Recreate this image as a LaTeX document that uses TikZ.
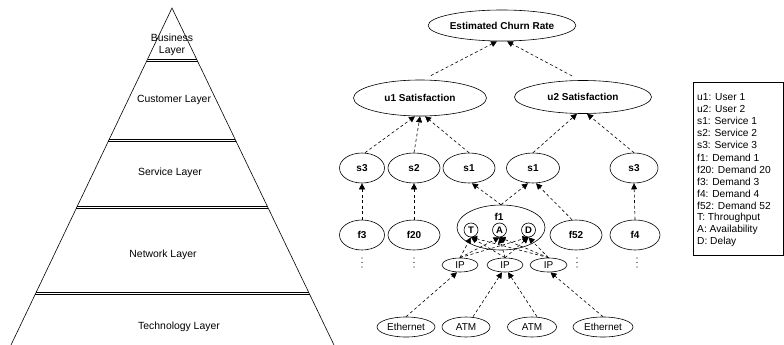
\documentclass[tikz,border=0pt]{standalone}
\usepackage{fontspec}
\setmainfont{Liberation Sans}
\usetikzlibrary{shapes.geometric,arrows.meta,calc}
\begin{document}
\begin{tikzpicture}[x=1pt,y=-1pt,
  txt/.style={font=\fontsize{10.4}{11.5}\selectfont,inner sep=0pt,align=center},
  ell/.style={ellipse,draw,line width=0.6pt,inner sep=0pt,font=\fontsize{10}{12}\selectfont\bfseries},
  sml/.style={ellipse,draw,line width=0.6pt,inner sep=0pt,font=\fontsize{10}{12}\selectfont},
  metric/.style={circle,draw,line width=0.6pt,inner sep=0pt,minimum size=14pt,font=\fontsize{9.5}{10}\selectfont\bfseries},
  conn/.style={line width=0.6pt,dash pattern=on 3pt off 2.5pt,-{Triangle[length=6pt,width=6pt]}},
  sep/.style={line width=0.7pt},
  pyr/.style={line width=0.6pt},
  dotmark/.style={fill=black}
]
\useasboundingbox (0,0) rectangle (784,345);

% ---------- pyramid ----------
\coordinate (apex) at (172,8);
\coordinate (bl) at (11,345);
\coordinate (br) at (334,345);
\draw[pyr] (bl) -- (apex) -- (br);
% double separators (upper and lower line of each pair)
\draw[sep] (147.7,59) -- (196.5,59);
\draw[sep] (146.7,61.2) -- (197.5,61.2);
\draw[sep] (109.4,139) -- (235.0,139);
\draw[sep] (108.4,141.2) -- (236.0,141.2);
\draw[sep] (77.4,206) -- (267.2,206);
\draw[sep] (76.4,208.2) -- (268.2,208.2);
\draw[sep] (36.3,292) -- (308.5,292);
\draw[sep] (35.3,294.2) -- (309.5,294.2);

\node[txt] (lbus) at (172,45) {Business\\Layer};
\node[txt] (lcus) at (174,100) {Customer Layer};
\node[txt] (lser) at (170,173) {Service Layer};
\node[txt] (lnet) at (163,255) {Network Layer};
\node[txt] (ltec) at (179,327) {Technology Layer};

% ---------- graph ----------
\node[ell,minimum width=131pt,minimum height=31pt] (churn) at (502,25.5) {Estimated Churn Rate};
\node[ell,minimum width=133pt,minimum height=36pt] (u1) at (420,98) {u1 Satisfaction};
\node[ell,minimum width=137pt,minimum height=33pt] (u2) at (583,97) {u2 Satisfaction};

\node[ell,minimum width=45pt,minimum height=30pt] (s3a) at (362,168) {s3};
\node[ell,minimum width=52pt,minimum height=30pt] (s2) at (414,168) {s2};
\node[ell,minimum width=52pt,minimum height=30pt] (s1a) at (469,168) {s1};
\node[ell,minimum width=53pt,minimum height=30pt] (s1b) at (533,168) {s1};
\node[ell,minimum width=48pt,minimum height=30pt] (s3b) at (634,168) {s3};

\node[ell,minimum width=45pt,minimum height=30pt] (f3) at (362,235) {f3};
\node[ell,minimum width=52pt,minimum height=30pt] (f20) at (414,235) {f20};
\node[ell,minimum width=88pt,minimum height=45pt] (f1) at (501,227.5) {};
\node[inner sep=0pt,font=\fontsize{10}{12}\selectfont\bfseries] (f1lab) at (499,216.5) {f1};
\node[ell,minimum width=52pt,minimum height=30pt] (f52) at (576,235) {f52};
\node[ell,minimum width=50pt,minimum height=30pt] (f4) at (635,235) {f4};

\node[metric] (T) at (471,230) {T};
\node[metric] (A) at (499.5,230) {A};
\node[metric] (D) at (528.5,230) {D};

\foreach \xx in {362,414,577,637}{
  \foreach \yy in {258,262.5,267}{
    \fill[dotmark] (\xx,\yy) circle (0.65pt);
  }
}

\node[sml,minimum width=36pt,minimum height=14pt] (ip1) at (460,265) {IP};
\node[sml,minimum width=36pt,minimum height=14pt] (ip2) at (505,265) {IP};
\node[sml,minimum width=37pt,minimum height=14pt] (ip3) at (548.5,265) {IP};

\node[sml,minimum width=58pt,minimum height=20pt] (eth1) at (406,327) {Ethernet};
\node[sml,minimum width=48pt,minimum height=20pt] (atm1) at (466,327) {ATM};
\node[sml,minimum width=49pt,minimum height=20pt] (atm2) at (532,327) {ATM};
\node[sml,minimum width=60pt,minimum height=20pt] (eth2) at (603,327) {Ethernet};

% connectors
\draw[conn,shorten <=9pt] ($(u1.north)+(3,0)$) -- ($(churn.south)+(-5,0)$);
\draw[conn,shorten <=9pt] ($(u2.north)+(-3,0)$) -- ($(churn.south)+(5,0)$);

\draw[conn] ($(s3a.north)+(3,0)$) -- ($(u1.south)+(-5,0)$);
\draw[conn] (s2.north) -- ($(u1.south)+(0,0)$);
\draw[conn] (s1a.north) -- ($(u1.south)+(5,0)$);
\draw[conn] (s1b.north) -- ($(u2.south)+(-6,0)$);
\draw[conn] (s3b.north) -- ($(u2.south)+(4,0)$);

\draw[conn] (f3.north) -- (s3a.south);
\draw[conn] (f20.north) -- (s2.south);
\draw[conn] (f4.north) -- (s3b.south);
\draw[conn] (f1.north) -- ($(s1a.south)+(3,0)$);
\draw[conn] (f1.north) -- ($(s1b.south)+(-5,0)$);
\draw[conn] ($(f52.north)+(-4,0)$) -- ($(s1b.south)+(3,0)$);

\foreach \ip in {ip1,ip2,ip3}{
  \foreach \m in {T,A,D}{
    \draw[conn] (\ip.north) -- (\m.south);
  }
}

\draw[conn] (eth1.north) -- ($(ip1.south)+(-3,0)$);
\draw[conn] ($(atm1.north)+(7,0)$) -- ($(ip2.south)+(-3,0)$);
\draw[conn] ($(atm2.north)+(5,0)$) -- ($(ip2.south)+(3,0)$);
\draw[conn] (eth2.north) -- ($(ip3.south)+(2,0)$);

% ---------- legend ----------
\node[draw,line width=0.6pt,minimum width=90pt,minimum height=173pt,inner sep=0pt] (legend) at (738,168.5) {};
\foreach \t [count=\i] in {u1: User 1,u2: User 2,s1: Service 1,s2: Service 2,s3: Service 3,f1: Demand 1,f20: Demand 20,f3: Demand 3,f4: Demand 4,f52: Demand 52,T: Throughput,A: Availability,D: Delay}{
  \node[txt,anchor=west,font=\fontsize{10.2}{12}\selectfont] (leg\i) at (697,{97+12.08*(\i-1)}) {\t};
}
\end{tikzpicture}
\end{document}
